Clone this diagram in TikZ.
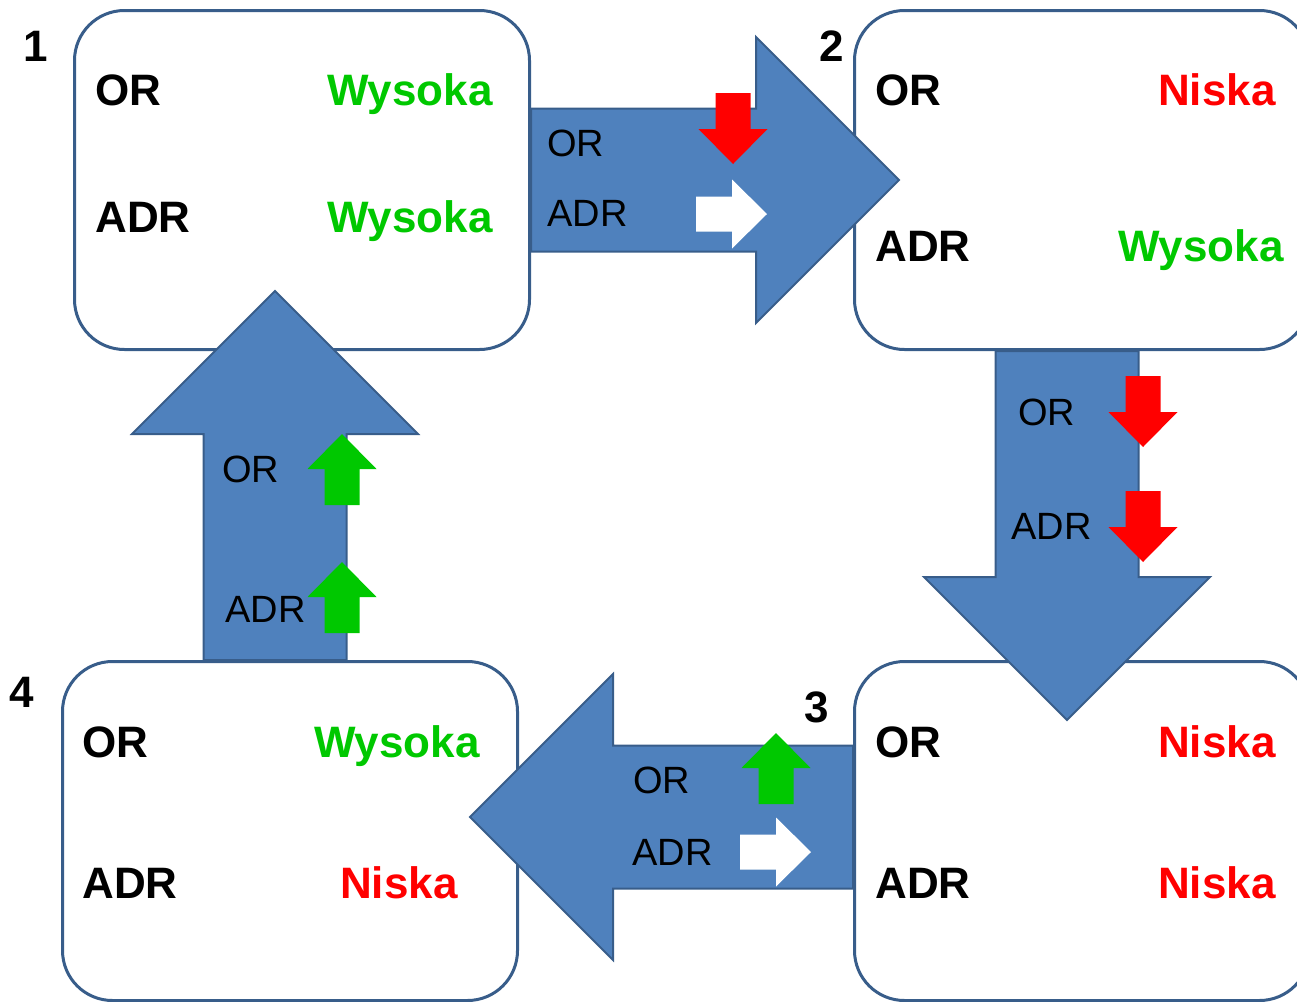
\documentclass[tikz,border=0pt]{standalone}
\usepackage{fontspec}
\setmainfont{Liberation Sans}
\usetikzlibrary{calc}

\definecolor{panelline}{RGB}{56,93,138}
\definecolor{flowfill}{RGB}{79,129,189}
\definecolor{upgreen}{RGB}{0,200,0}
\definecolor{downred}{RGB}{255,0,0}

\tikzset{
  panel/.style={draw=panelline, line width=1.5pt, fill=white, rounded corners=25pt,
    minimum width=227.5pt, minimum height=169.5pt, inner sep=0pt, anchor=north west},
  flow/.style={draw=panelline, line width=1pt, fill=flowfill, line join=miter},
  keyword/.style={font=\fontsize{22}{26}\selectfont\bfseries, inner sep=0pt,
    text height=15.75pt, text depth=0pt},
  rowname/.style={keyword, anchor=west, text=black},
  high/.style={keyword, anchor=east, text=upgreen},
  low/.style={keyword, anchor=east, text=downred},
  stepno/.style={keyword, anchor=center, text=black},
  flowlabel/.style={font=\fontsize{19}{22}\selectfont, inner sep=0pt,
    text height=13.6pt, text depth=0pt, anchor=west, text=black},
  trend/.pic={
    \fill[pic actions] (-71,-17.5) -- (-35,-17.5) -- (-35,-34.5) -- (0,0)
      -- (-35,34.5) -- (-35,17.5) -- (-71,17.5) -- cycle;
  }
}

\begin{document}
\begin{tikzpicture}[x=0.5pt, y=-0.5pt]
  \useasboundingbox (0,0) rectangle (1297,1002);
  \clip (0,0) rectangle (1297,1002);

  % the four states
  \node[panel] (b1) at (73,9) {};
  \node[panel] (b2) at (853,9) {};
  \node[panel] (b3) at (853,660) {};
  \node[panel] (b4) at (61,660) {};

  % block arrows between the states
  \draw[flow] ($(b1.east)+(0,-71.5)$) -- ++(225,0) -- ++(0,-71.5) -- ++(143,143)
    -- ++(-143,143) -- ++(0,-71.5) -- ++(-225,0) -- cycle;
  \draw[flow] ($(b2.south)+(-86.5,0)$) -- ++(0,226) -- ++(-71.5,0) -- ++(143,143)
    -- ++(143,-143) -- ++(-71.5,0) -- ++(0,-226) -- cycle;
  \draw[flow] ($(b3.west)+(0,-85.5)$) -- ++(-240,0) -- ++(0,-71.5) -- ++(-143,143)
    -- ++(143,143) -- ++(0,-71.5) -- ++(240,0) -- cycle;
  \draw[flow] ($(b4.north)+(-86.5,0)$) -- ++(0,-226) -- ++(-71.5,0) -- ++(143,-143)
    -- ++(143,143) -- ++(-71.5,0) -- ++(0,226) -- cycle;

  % 1 -> 2
  \node[flowlabel] (l12a) at (547,143) {OR};
  \node[flowlabel] (l12b) at (547,213) {ADR};
  \pic[fill=downred, rotate=-90] (t12a) at (733,164) {trend};
  \pic[fill=white] (t12b) at (767,214) {trend};

  % 2 -> 3
  \node[flowlabel] (l23a) at (1018,412) {OR};
  \node[flowlabel] (l23b) at (1011,526) {ADR};
  \pic[fill=downred, rotate=-90] (t23a) at (1143,447) {trend};
  \pic[fill=downred, rotate=-90] (t23b) at (1143,562) {trend};

  % 3 -> 4
  \node[flowlabel] (l34a) at (633,780) {OR};
  \node[flowlabel] (l34b) at (632,852) {ADR};
  \pic[fill=upgreen, rotate=90] (t34a) at (776,733) {trend};
  \pic[fill=white] (t34b) at (811,852) {trend};

  % 4 -> 1
  \node[flowlabel] (l41a) at (222,469) {OR};
  \node[flowlabel] (l41b) at (225,609) {ADR};
  \pic[fill=upgreen, rotate=90] (t41a) at (342,434) {trend};
  \pic[fill=upgreen, rotate=90] (t41b) at (342,562) {trend};

  % state contents
  \node[rowname] (o1) at (95,90) {OR};
  \node[high]    (v1a) at (493,90) {Wysoka};
  \node[rowname] (a1) at (95,217) {ADR};
  \node[high]    (v1b) at (493,217) {Wysoka};

  \node[rowname] (o2) at (875,90) {OR};
  \node[low]     (v2a) at (1276,90) {Niska};
  \node[rowname] (a2) at (875,246) {ADR};
  \node[high]    (v2b) at (1284,246) {Wysoka};

  \node[rowname] (o3) at (875,742) {OR};
  \node[low]     (v3a) at (1276,742) {Niska};
  \node[rowname] (a3) at (875,883) {ADR};
  \node[low]     (v3b) at (1276,883) {Niska};

  \node[rowname] (o4) at (82,742) {OR};
  \node[high]    (v4a) at (480,742) {Wysoka};
  \node[rowname] (a4) at (82,883) {ADR};
  \node[low]     (v4b) at (458,883) {Niska};

  % step numbers
  \node[stepno] (n1) at (36,46) {1};
  \node[stepno] (n2) at (832,46) {2};
  \node[stepno] (n3) at (817,707) {3};
  \node[stepno] (n4) at (22,692) {4};
\end{tikzpicture}
\end{document}
